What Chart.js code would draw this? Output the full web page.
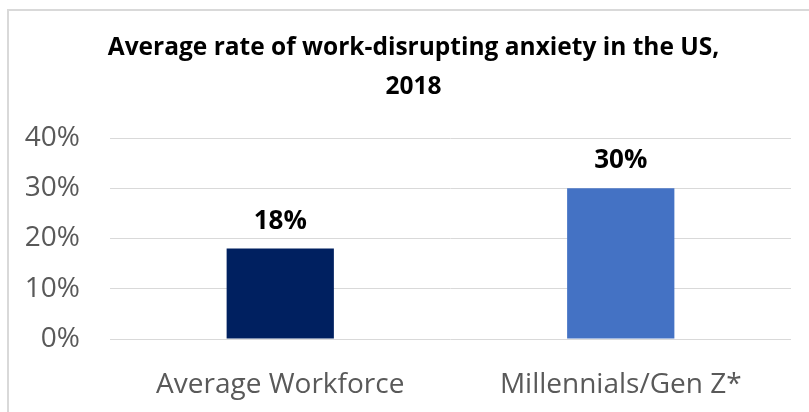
<!DOCTYPE html>
<html>
<head>
<meta charset="utf-8">
<script src="https://cdn.jsdelivr.net/npm/chart.js@4"></script>
<style>
  html, body { margin: 0; padding: 0; background: #fff; overflow: hidden; }
  #frame { position: absolute; left: 7px; top: 9px; width: 900px; height: 500px;
           border-left: 2px solid #d9d9d9; border-top: 2px solid #d9d9d9; }
  #wrap { position: absolute; left: 0; top: 0; width: 809px; height: 412px; }
</style>
</head>
<body>
<div id="frame"></div>
<div id="wrap"><canvas id="anxietyChart" width="809" height="412"></canvas></div>
<script>
// anxiety rate by group, percent
const groups = ['Average Workforce', 'Millennials/Gen Z*'];
const rates = [18, 30];
const barColors = ['#002060', '#4472C4'];
const yTicks = [0, 10, 20, 30, 40];

// prints each bar's value above it
const valueLabels = {
  id: 'valueLabels',
  afterLayout(chart) {
    // centre the title a bit right of the canvas middle
    chart.titleBlock.left = 36;
  },
  afterDatasetsDraw(chart) {
    const ctx = chart.ctx;
    const meta = chart.getDatasetMeta(0);
    ctx.save();
    ctx.font = 'bold 26px "Open Sans"';
    ctx.fillStyle = '#000';
    ctx.textAlign = 'center';
    ctx.textBaseline = 'alphabetic';
    meta.data.forEach((bar, i) => {
      ctx.fillText(rates[i] + '%', bar.x, bar.y - 20);
    });
    ctx.restore();
  }
};

new Chart(document.getElementById('anxietyChart'), {
  type: 'bar',
  data: {
    labels: groups,
    datasets: [{ data: rates, backgroundColor: barColors, borderWidth: 0,
      categoryPercentage: 1, barPercentage: 0.315 }]
  },
  options: {
    responsive: false,
    animation: false,
    layout: { padding: { left: 0, right: 18, top: 0, bottom: 0 } },
    plugins: {
      legend: { display: false },
      tooltip: { enabled: false },
      title: {
        display: true,
        text: ['Average rate of work-disrupting anxiety in the US,', '2018'],
        color: '#000',
        font: { family: 'Open Sans', size: 24.5, weight: 'bold', lineHeight: 39 / 24.5 },
        padding: { top: 29, bottom: 31 }
      }
    },
    scales: {
      x: {
        afterFit: s => { s.height = 73; },
        grid: { display: false },
        border: { display: false },
        ticks: { color: '#595959', padding: 21, maxRotation: 0,
          font: { family: 'Open Sans', size: 28 } }
      },
      y: {
        min: 0, max: 40,
        afterBuildTicks: s => { s.ticks = yTicks.map(v => ({ value: v })); },
        afterFit: s => { s.width = 110; },
        grid: { color: '#d9d9d9', lineWidth: 1, drawTicks: false },
        border: { display: false },
        ticks: { color: '#595959', padding: 30, font: { family: 'Open Sans', size: 28 },
          callback: v => v + '%' }
      }
    }
  },
  plugins: [valueLabels]
});
</script>
</body>
</html>
